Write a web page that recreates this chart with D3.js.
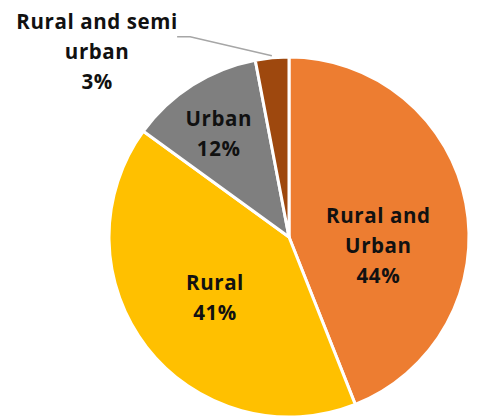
<!DOCTYPE html>
<html>
<head>
<meta charset="utf-8">
<script src="https://cdn.jsdelivr.net/npm/d3@7"></script>
<style>
  body { margin: 0; background: #fff; }
  text { font-family: "Open Sans", Lato, sans-serif; font-weight: 700; fill: #111; letter-spacing: 0.6px; }
</style>
</head>
<body>
<svg width="479" height="416"></svg>
<script>
const categories = ["Rural and Urban", "Rural", "Urban", "Rural and semi urban"];
const values = [44, 41, 12, 3];
const labelLines = [["Rural and", "Urban", "44%"], ["Rural", "41%"], ["Urban", "12%"], ["Rural and semi", "urban", "3%"]];
const colors = ["#ED7D31", "#FFC000", "#7F7F7F", "#9E480E"];

const svg = d3.select("svg");
const cx = 289, cy = 237, radius = 180;
const g = svg.append("g").attr("transform", `translate(${cx},${cy})`);

const data = categories.map((c, i) => ({ name: c, value: values[i], lines: labelLines[i], color: colors[i] }));

const pie = d3.pie().sort(null).value(d => d.value);
const arcs = pie(data);
const arc = d3.arc().innerRadius(0).outerRadius(radius);

g.selectAll("path")
    .data(arcs)
    .enter().append("path")
    .attr("d", arc)
    .attr("fill", d => d.data.color)
    .attr("stroke", "#fff")
    .attr("stroke-width", 3)
    .attr("stroke-linejoin", "round");

// label placement: radius along mid angle, plus small nudges (like excel does)
const labelPos = [
    { r: 92, dx: -1, dy: 26 },
    { r: 100, dx: 5, dy: 0 },
    { r: 120, dx: -6, dy: -2 },
    { r: 190, dx: -174, dy: 4 }
];
const lineH = 30;

arcs.forEach((a, i) => {
    const mid = (a.startAngle + a.endAngle) / 2;
    const p = labelPos[i];
    const x = Math.sin(mid) * p.r + p.dx;
    const y = -Math.cos(mid) * p.r + p.dy;
    const n = a.data.lines.length;
    const t = g.append("text")
        .attr("text-anchor", "middle")
        .attr("font-size", 20.5);
    a.data.lines.forEach((line, j) => {
        t.append("tspan")
            .attr("x", x)
            .attr("y", y + (j - (n - 1) / 2) * lineH)
            .attr("dy", "0.35em")
            .text(line);
    });
    if (i === 3) {
        // leader line from label to slice edge
        const edge = d3.arc().innerRadius(radius + 2).outerRadius(radius + 2).centroid(a);
        const sx = x + 80, sy = y - 15;
        g.append("polyline")
            .attr("points", `${sx},${sy} ${sx + 13},${sy} ${edge[0]},${edge[1]}`)
            .attr("fill", "none")
            .attr("stroke", "#A6A6A6")
            .attr("stroke-width", 1.5);
    }
});
</script>
</body>
</html>
